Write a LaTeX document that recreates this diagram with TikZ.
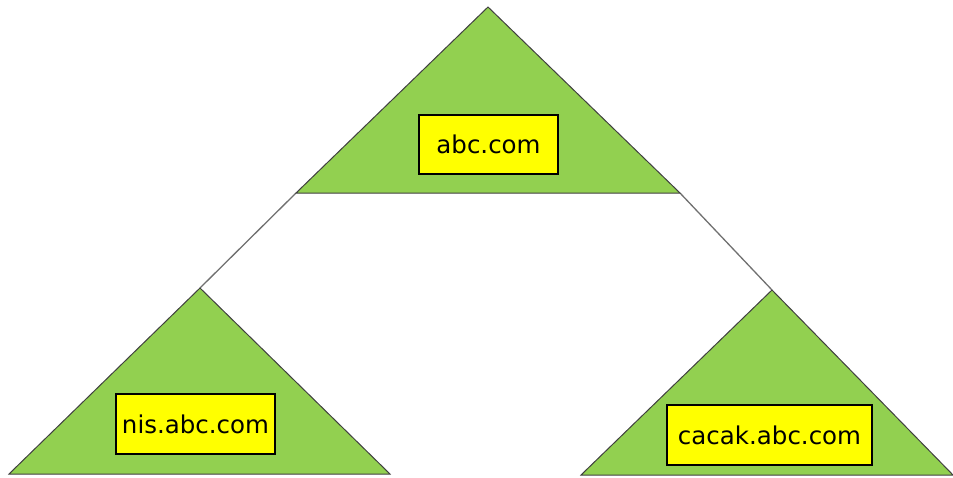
\documentclass[tikz,border=0pt]{standalone}
\usepackage{fontspec}
\setmainfont{DejaVu Sans}
\definecolor{trigreen}{HTML}{92D050}
\definecolor{edgegray}{HTML}{404040}
\definecolor{boxyellow}{RGB}{255,255,0}
\begin{document}
\begin{tikzpicture}[x=1pt,y=-1pt,
  tri/.style={fill=trigreen,draw=edgegray,line width=1pt,line join=miter},
  label/.style={draw=black,fill=boxyellow,line width=1.3pt,inner sep=0pt,
    font=\fontsize{24.5}{29}\selectfont},
  conn/.style={draw=edgegray!75,line width=1.3pt}]
\useasboundingbox (0,0) rectangle (953,477);
% top triangle
\coordinate (ta) at (488,7);
\coordinate (tl) at (296,193);
\coordinate (tr) at (680,193);
% left triangle
\coordinate (la) at (200,288);
\coordinate (ll) at (9,474);
\coordinate (lr) at (390,474);
% right triangle
\coordinate (ra) at (772,290);
\coordinate (rl) at (581,475);
\coordinate (rr) at (953,475);
\path[conn] (tl) -- (la);
\path[conn] (tr) -- (ra);
\path[tri] (ta) -- (tr) -- (tl) -- cycle;
\path[tri] (la) -- (lr) -- (ll) -- cycle;
\path[tri] (ra) -- (rr) -- (rl) -- cycle;
\node[label,minimum width=139pt,minimum height=59pt] (abc) at (488.5,144.5) {abc.com};
\node[label,minimum width=159pt,minimum height=60pt] (nis) at (195.5,424) {nis.abc.com};
\node[label,minimum width=205pt,minimum height=60pt] (cacak) at (769.5,435) {cacak.abc.com};
\end{tikzpicture}
\end{document}
